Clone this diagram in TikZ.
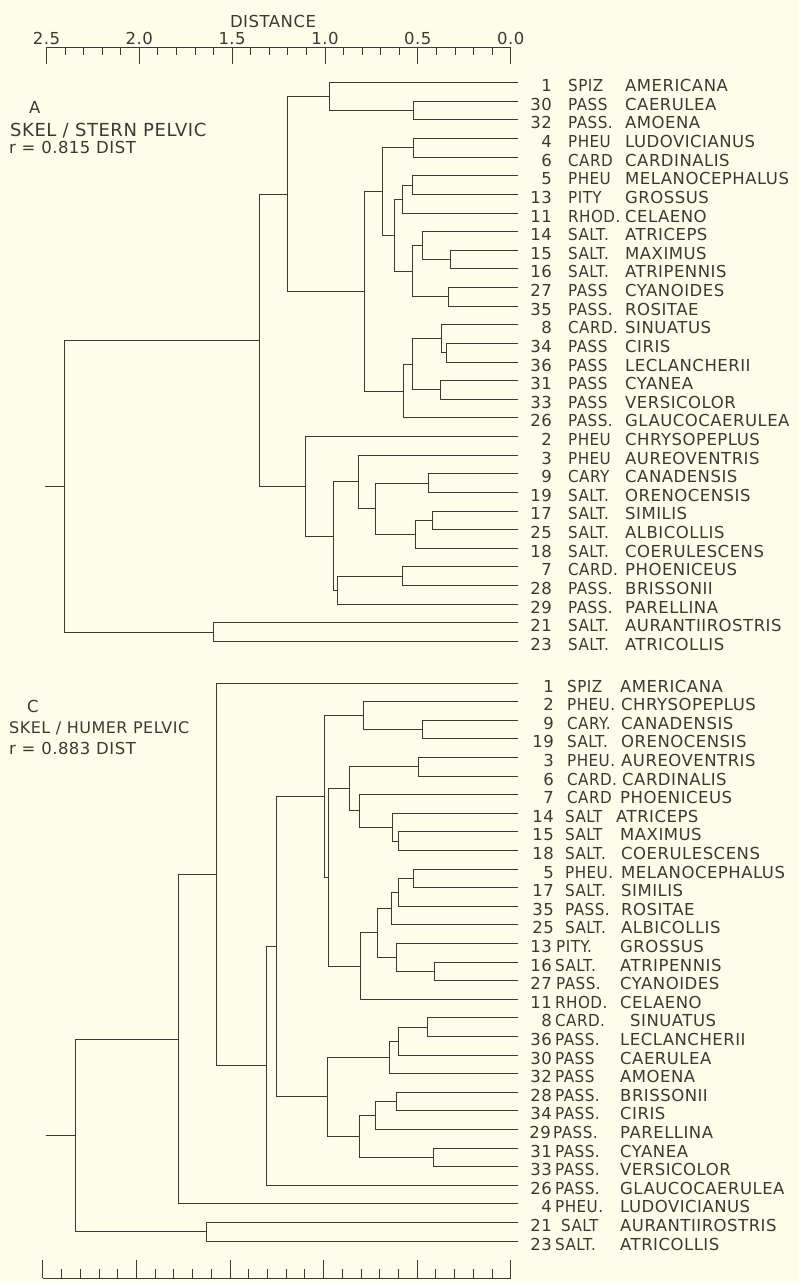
\documentclass[tikz,border=0pt]{standalone}
\usepackage{graphicx}
\usepackage{fontspec}
\setmainfont{DejaVu Sans}[LetterSpace=3]
\usetikzlibrary{calc}
\definecolor{bg}{RGB}{254,253,234}
\definecolor{ink}{RGB}{58,58,52}
\newcommand\mkjoin[4]{%
  \path let \p1=(#3), \p2=(#4) in coordinate (#1) at (#2pt,{0.5*(\y1)+0.5*(\y2)});
  \draw[br] (#3) -- (#3 -| #1) -- (#4 -| #1) -- (#4);
}
\newcommand\gen[1]{\scalebox{0.92}[1]{#1}}
\begin{document}
\begin{tikzpicture}[x=1pt,y=-1pt,
  br/.style={draw=ink,line width=0.9pt},
  lab/.style={font=\fontsize{16.5}{18}\selectfont,text=ink,inner sep=0pt}]
\fill[bg] (0,0) rectangle (799,1281);
\useasboundingbox (0,0) rectangle (799,1281);

% ---------- top axis ----------
\node[lab,anchor=base] (dist) at (273,27.3) {DISTANCE};
\coordinate (tl) at (46.4,47.3);
\coordinate (tr) at (510.7,47.3);
\draw[br] (tl) -- (tr);
\foreach \k in {0,...,25}{
  \pgfmathsetmacro\tx{46.4+185.72*\k/10}
  \pgfmathtruncatemacro\mj{mod(\k,5)==0?1:0}
  \ifnum\mj=1
    \draw[br] (\tx,47.3) -- (\tx,64);
  \else
    \draw[br] (\tx,47.3) -- (\tx,55.5);
  \fi
}
\foreach \v/\k in {2.5/0,2.0/1,1.5/2,1.0/3,0.5/4,0.0/5}{
  \node[lab,anchor=base] (tk\k) at ({46.4+92.86*\k},45) {\v};
}

% ---------- bottom axis ----------
\coordinate (bl) at (42.9,1278);
\coordinate (bri) at (510.7,1278);
\draw[br] (bl) -- (bri);
\foreach \k in {0,...,25}{
  \pgfmathsetmacro\tx{42.9+187.12*\k/10}
  \pgfmathtruncatemacro\mj{mod(\k,5)==0?1:0}
  \ifnum\mj=1
    \draw[br] (\tx,1278) -- (\tx,1260);
  \else
    \draw[br] (\tx,1278) -- (\tx,1268.5);
  \fi
}

% ---------- panel captions ----------
\node[lab,anchor=base west] (capA) at (29,114) {A};
\node[lab,anchor=base west,font=\fontsize{18}{20}\selectfont] (capA2) at (10,137) {SKEL / STERN PELVIC};
\node[lab,anchor=base west] (capA3) at (9,154) {r = 0.815 DIST};
\node[lab,anchor=base west] (capC) at (27,712.7) {C};
\node[lab,anchor=base west,font=\fontsize{16}{18}\selectfont] (capC2) at (9,733.3) {SKEL / HUMER PELVIC};
\node[lab,anchor=base west] (capC3) at (9,754) {r = 0.883 DIST};

% ---------- leaves A ----------
\foreach \n/\g/\s [count=\i from 0] in {
 1/SPIZ/AMERICANA, 30/PASS/CAERULEA, 32/PASS./AMOENA, 4/PHEU/LUDOVICIANUS,
 6/CARD/CARDINALIS, 5/PHEU/MELANOCEPHALUS, 13/PITY/GROSSUS, 11/RHOD./CELAENO,
 14/SALT./ATRICEPS, 15/SALT./MAXIMUS, 16/SALT./ATRIPENNIS, 27/PASS/CYANOIDES,
 35/PASS./ROSITAE, 8/CARD./SINUATUS, 34/PASS/CIRIS, 36/PASS/LECLANCHERII,
 31/PASS/CYANEA, 33/PASS/VERSICOLOR, 26/PASS./GLAUCOCAERULEA, 2/PHEU/CHRYSOPEPLUS,
 3/PHEU/AUREOVENTRIS, 9/CARY/CANADENSIS, 19/SALT./ORENOCENSIS, 17/SALT./SIMILIS,
 25/SALT./ALBICOLLIS, 18/SALT./COERULESCENS, 7/CARD./PHOENICEUS, 28/PASS./BRISSONII,
 29/PASS./PARELLINA, 21/SALT./AURANTIIROSTRIS, 23/SALT./ATRICOLLIS}{
  \pgfmathsetmacro\yy{82.7+18.62*\i}
  \coordinate (a\n) at (518,\yy);
  \node[lab,anchor=base east] (an\n) at (552,\yy+9) {\n};
  \node[lab,anchor=base west] (ag\n) at (568,\yy+9) {\gen{\g}};
  \node[lab,anchor=base west] (as\n) at (625,\yy+9) {\s};
}

% ---------- leaves C ----------
\foreach \n/\g/\s/\nx/\gx/\sx [count=\i from 0] in {
 1/SPIZ/AMERICANA/554/567/620, 2/PHEU./CHRYSOPEPLUS/554/567/621, 9/CARY./CANADENSIS/554/567/621,
 19/SALT./ORENOCENSIS/554/567/621, 3/PHEU./AUREOVENTRIS/554/567/621, 6/CARD./CARDINALIS/554/567/622,
 7/CARD/PHOENICEUS/554/567/620, 14/SALT/ATRICEPS/554/565/616, 15/SALT/MAXIMUS/554/565/620,
 18/SALT./COERULESCENS/554/565/621, 5/PHEU./MELANOCEPHALUS/554/565/621, 17/SALT./SIMILIS/554/565/621,
 35/PASS./ROSITAE/554/565/621, 25/SALT./ALBICOLLIS/554/565/621, 13/PITY./GROSSUS/552/556/620,
 16/SALT./ATRIPENNIS/552/555/620, 27/PASS./CYANOIDES/552/556/620, 11/RHOD./CELAENO/552/555/620,
 8/CARD./SINUATUS/552/555/630, 36/PASS./LECLANCHERII/552/555/620, 30/PASS/CAERULEA/552/555/620,
 32/PASS/AMOENA/552/555/620, 28/PASS./BRISSONII/552/555/620, 34/PASS./CIRIS/552/555/620,
 29/PASS./PARELLINA/551/553/620, 31/PASS./CYANEA/552/555/620, 33/PASS./VERSICOLOR/552/555/620,
 26/PASS./GLAUCOCAERULEA/552/555/620, 4/PHEU./LUDOVICIANUS/552/555/620,
 21/SALT/AURANTIIROSTRIS/552/561/620, 23/SALT./ATRICOLLIS/552/555/620}{
  \pgfmathsetmacro\yy{683+18.6*\i}
  \coordinate (c\n) at (518,\yy);
  \node[lab,anchor=base east] (cn\n) at (\nx,\yy+9) {\n};
  \node[lab,anchor=base west] (cg\n) at (\gx,\yy+9) {\gen{\g}};
  \node[lab,anchor=base west] (cs\n) at (\sx,\yy+9) {\s};
}

% ---------- tree A ----------
\mkjoin{A3032}{413.2}{a30}{a32}
\mkjoin{AD}{329.3}{a1}{A3032}
\mkjoin{A46}{413.2}{a4}{a6}
\mkjoin{A513}{412.5}{a5}{a13}
\mkjoin{AI}{402.5}{A513}{a11}
\mkjoin{A1516}{450.7}{a15}{a16}
\mkjoin{AK}{422.5}{a14}{A1516}
\mkjoin{A2735}{448.9}{a27}{a35}
\mkjoin{AJ}{412.5}{AK}{A2735}
\mkjoin{AH}{394.6}{AI}{AJ}
\mkjoin{AF}{382.1}{A46}{AH}
\mkjoin{A3436}{446.4}{a34}{a36}
\mkjoin{AM}{441}{a8}{A3436}
\mkjoin{A3133}{440.4}{a31}{a33}
\mkjoin{AL}{412.5}{AM}{A3133}
\mkjoin{AG}{403.6}{AL}{a26}
\mkjoin{AE}{364.3}{AF}{AG}
\mkjoin{AC}{287.5}{AD}{AE}
\mkjoin{A919}{428.6}{a9}{a19}
\mkjoin{A1725}{432.9}{a17}{a25}
\mkjoin{AR}{415.4}{A1725}{a18}
\mkjoin{AQ}{375}{A919}{AR}
\mkjoin{AO}{358.9}{a3}{AQ}
\mkjoin{A728}{402.9}{a7}{a28}
\mkjoin{AP}{337.5}{A728}{a29}
\mkjoin{AN}{333.9}{AO}{AP}
\mkjoin{ABB}{305.4}{a2}{AN}
\mkjoin{AB}{259}{AC}{ABB}
\mkjoin{A2123}{213.6}{a21}{a23}
\mkjoin{Aroot}{64.3}{AB}{A2123}
\coordinate (Astub) at (44.6,0);
\draw[br] (Aroot) -- (Aroot -| Astub);

% ---------- tree C ----------
\mkjoin{C919}{422.1}{c9}{c19}
\mkjoin{CT}{363.6}{c2}{C919}
\mkjoin{C36}{418.6}{c3}{c6}
\mkjoin{C1518}{398.9}{c15}{c18}
\mkjoin{CY}{392.9}{c14}{C1518}
\mkjoin{CX}{359}{c7}{CY}
\mkjoin{CV}{349.3}{C36}{CX}
\mkjoin{C517}{413.2}{c5}{c17}
\mkjoin{CAC}{398.2}{C517}{c35}
\mkjoin{CAA}{391}{CAC}{c25}
\mkjoin{C1627}{434}{c16}{c27}
\mkjoin{CAB}{396.4}{c13}{C1627}
\mkjoin{CZ}{377.9}{CAA}{CAB}
\mkjoin{CW}{360.7}{CZ}{c11}
\mkjoin{CU}{328.6}{CV}{CW}
\mkjoin{CR}{324.3}{CT}{CU}
\mkjoin{C836}{427.5}{c8}{c36}
\mkjoin{CAF}{398.9}{C836}{c30}
\mkjoin{CAD}{389.3}{CAF}{c32}
\mkjoin{C2834}{396.4}{c28}{c34}
\mkjoin{CAG}{375.7}{C2834}{c29}
\mkjoin{C3133}{433.2}{c31}{c33}
\mkjoin{CAE}{359}{CAG}{C3133}
\mkjoin{CS}{327.9}{CAD}{CAE}
\mkjoin{CQ}{276}{CR}{CS}
\mkjoin{CP}{266}{CQ}{c26}
\mkjoin{CK}{216.8}{c1}{CP}
\mkjoin{CJ}{178.6}{CK}{c4}
\mkjoin{C2123}{206.4}{c21}{c23}
\mkjoin{Croot}{75}{CJ}{C2123}
\coordinate (Cstub) at (46.4,0);
\draw[br] (Croot) -- (Croot -| Cstub);
\end{tikzpicture}
\end{document}
